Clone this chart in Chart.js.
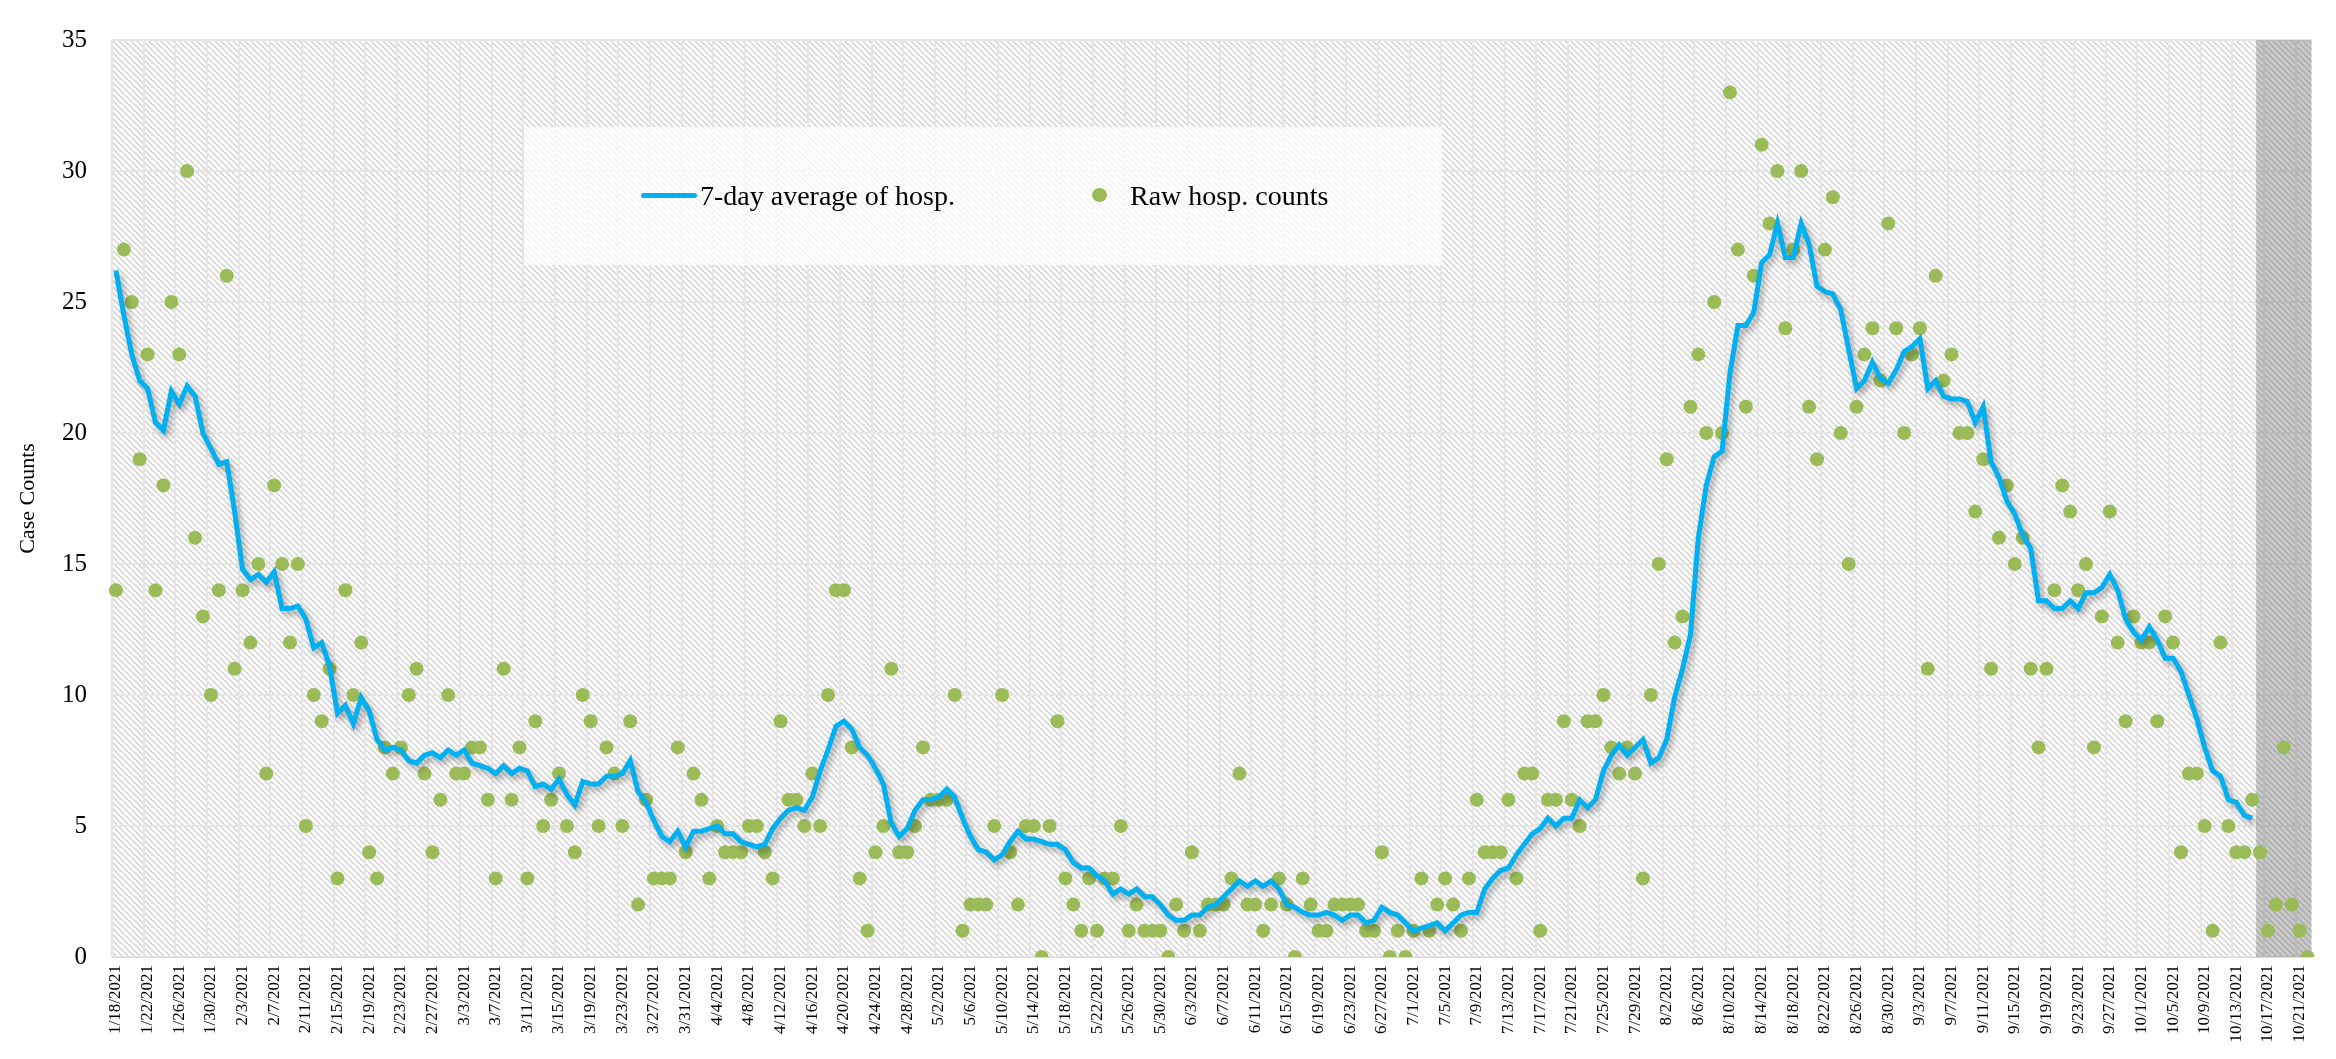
<!DOCTYPE html>
<html>
<head>
<meta charset="utf-8">
<title>Hospitalizations</title>
<script src="https://cdn.jsdelivr.net/npm/chart.js@4.4.1/dist/chart.umd.min.js"></script>
<style>
    html, body { margin: 0; padding: 0; background: #fff; }
    #wrap { position: relative; width: 2336px; height: 1059px; }
    #legend {
        position: absolute; left: 524px; top: 127px; width: 918px; height: 138px;
        background: rgba(255, 255, 255, 0.72);
        font-family: "Liberation Serif", serif; font-size: 28px; color: #000;
    }
    .item { position: absolute; top: 51px; line-height: 36px; white-space: nowrap; }
    .swatch-line { position: absolute; left: 117px; top: 66px; width: 56px; height: 5px; background: #00B0F0; border-radius: 3px; }
    .swatch-dot { position: absolute; left: 568px; top: 61px; width: 15px; height: 14px; border-radius: 50%; background: #9BBB59; }
</style>
</head>
<body>
<div id="wrap">
    <canvas id="hospChart" width="2336" height="1059"></canvas>
    <div id="legend">
        <div class="swatch-line"></div>
        <div class="item" style="left:176px;">7-day average of hosp.</div>
        <div class="swatch-dot"></div>
        <div class="item" style="left:606px;">Raw hosp. counts</div>
    </div>
</div>
<script>
// --- Data ---
// date spans: [month, firstDay, lastDay], year 2021
const monthSpans = [[1, 18, 31], [2, 1, 28], [3, 1, 31], [4, 1, 30], [5, 1, 31],
    [6, 1, 30], [7, 1, 31], [8, 1, 31], [9, 1, 30], [10, 1, 22]];

// raw daily hospitalization counts, 1/18/2021 .. 10/22/2021
const rawCounts = [
    14, 27, 25, 19, 23, 14, 18, 25, 23, 30, 16, 13, 10, 14,           // Jan 18-31
    26, 11, 14, 12, 15, 7, 18, 15, 12, 15, 5, 10, 9, 11, 3, 14, 10, 12, 4, 3, 8, 7, 8, 10, 11, 7, 4, 6, // Feb
    10, 7, 7, 8, 8, 6, 3, 11, 6, 8, 3, 9, 5, 6, 7, 5, 4, 10, 9, 5, 8, 7, 5, 9, 2, 6, 3, 3, 3, 8, 4,   // Mar
    7, 6, 3, 5, 4, 4, 4, 5, 5, 4, 3, 9, 6, 6, 5, 7, 5, 10, 14, 14, 8, 3, 1, 4, 5, 11, 4, 4, 5, 8,     // Apr
    6, 6, 6, 10, 1, 2, 2, 2, 5, 10, 4, 2, 5, 5, 0, 5, 9, 3, 2, 1, 3, 1, 3, 3, 5, 1, 2, 1, 1, 1, 0,    // May
    2, 1, 4, 1, 2, 2, 2, 3, 7, 2, 2, 1, 2, 3, 2, 0, 3, 2, 1, 1, 2, 2, 2, 2, 1, 1, 4, 0, 1, 0,         // Jun
    1, 3, 1, 2, 3, 2, 1, 3, 6, 4, 4, 4, 6, 3, 7, 7, 1, 6, 6, 9, 6, 5, 9, 9, 10, 8, 7, 8, 7, 3, 10,    // Jul
    15, 19, 12, 13, 21, 23, 20, 25, 20, 33, 27, 21, 26, 31, 28, 30, 24, 27, 30, 21, 19, 27, 29, 20, 15, 21, 23, 24, 22, 28, 24, // Aug
    20, 23, 24, 11, 26, 22, 23, 20, 20, 17, 19, 11, 16, 18, 15, 16, 11, 8, 11, 14, 18, 17, 14, 15, 8, 13, 17, 12, 9, 13, // Sep
    12, 12, 9, 13, 12, 4, 7, 7, 5, 1, 12, 5, 4, 4, 6, 4, 1, 2, 8, 2, 1, 0                            // Oct 1-22
];

// 7-day average (ends 10/15/2021)
const avgCounts = [
    26.2, 24.5, 23.0, 22.0, 21.7, 20.4, 20.1, 21.6, 21.1, 21.8, 21.4, 20.0, 19.4, 18.8,
    18.9, 17.0, 14.8, 14.4, 14.6, 14.3, 14.7, 13.3, 13.3, 13.4, 12.9, 11.8, 12.0, 11.1, 9.3, 9.6, 8.9, 9.9, 9.4, 8.3, 7.9, 8.0, 7.9, 7.5, 7.4, 7.7, 7.8, 7.6,
    7.9, 7.7, 7.9, 7.4, 7.3, 7.2, 7.0, 7.3, 7.0, 7.2, 7.1, 6.5, 6.6, 6.4, 6.8, 6.2, 5.8, 6.7, 6.6, 6.6, 6.9, 6.9, 7.0, 7.5, 6.3, 5.9, 5.2, 4.6, 4.4, 4.8, 4.2,
    4.8, 4.8, 4.9, 5.0, 4.7, 4.7, 4.4, 4.3, 4.2, 4.3, 4.9, 5.3, 5.6, 5.7, 5.6, 6.1, 7.1, 7.9, 8.8, 9.0, 8.7, 8.0, 7.7, 7.2, 6.6, 5.1, 4.6, 4.9, 5.6, 6.0,
    6.0, 6.1, 6.4, 6.1, 5.3, 4.6, 4.1, 4.0, 3.7, 3.9, 4.4, 4.8, 4.5, 4.5, 4.4, 4.3, 4.3, 4.1, 3.6, 3.4, 3.4, 3.1, 2.9, 2.4, 2.6, 2.4, 2.6, 2.3, 2.3, 2.0, 1.6,
    1.4, 1.4, 1.6, 1.6, 1.9, 2.0, 2.3, 2.6, 2.9, 2.7, 2.9, 2.7, 2.9, 2.6, 2.0, 1.9, 1.7, 1.6, 1.6, 1.7, 1.6, 1.4, 1.6, 1.6, 1.3, 1.4, 1.9, 1.7, 1.6, 1.3,
    1.0, 1.1, 1.2, 1.3, 1.0, 1.3, 1.6, 1.7, 1.7, 2.6, 3.0, 3.3, 3.4, 3.9, 4.3, 4.7, 4.9, 5.3, 5.0, 5.3, 5.3, 6.0, 5.7, 6.0, 7.1, 7.7, 8.1, 7.7, 8.0, 8.3, 7.4,
    7.6, 8.3, 9.9, 11.0, 12.3, 16.0, 18.0, 19.1, 19.3, 22.3, 24.1, 24.1, 24.6, 26.5, 26.8, 28.0, 26.7, 26.7, 28.0, 27.2, 25.6, 25.4, 25.3, 24.7, 23.2, 21.7, 22.0, 22.7, 22.1, 21.9, 22.4,
    23.1, 23.3, 23.6, 21.7, 22.0, 21.4, 21.3, 21.3, 21.2, 20.4, 21.0, 18.9, 18.3, 17.4, 16.9, 16.1, 15.6, 13.6, 13.6, 13.3, 13.3, 13.6, 13.3, 13.9, 13.9, 14.1, 14.6, 14.0, 12.9, 12.4,
    12.1, 12.6, 12.1, 11.4, 11.4, 10.9, 10.0, 9.1, 8.0, 7.1, 6.9, 6.0, 5.9, 5.4, 5.3
];

const yTicks = [0, 5, 10, 15, 20, 25, 30, 35];
const labelEvery = 4;        // one x label (and grid line) every 4 days
const shadedDays = 7;        // last 7 days are greyed out

// --- Build the category labels ---
const dateLabels = [];
monthSpans.forEach(([m, d0, d1]) => {
    for (let d = d0; d <= d1; d++) dateLabels.push(`${m}/${d}/2021`);
});

const avgSeries = dateLabels.map((_, i) => i < avgCounts.length ? avgCounts[i] : null);

// --- Plugins ---
const ctxMain = document.getElementById('hospChart').getContext('2d');

function makeHatch(bg, fg) {
    const c = document.createElement('canvas');
    c.width = 6; c.height = 6;
    const g = c.getContext('2d');
    g.fillStyle = bg;
    g.fillRect(0, 0, 6, 6);
    g.strokeStyle = fg;
    g.lineWidth = 1.3;
    g.beginPath();
    g.moveTo(-1, -1); g.lineTo(7, 7);
    g.moveTo(5, -1); g.lineTo(7, 1);
    g.moveTo(-1, 5); g.lineTo(1, 7);
    g.stroke();
    return ctxMain.createPattern(c, 'repeat');
}
const hatch = makeHatch('#ffffff', '#cfcfcf');

const backdrop = {
    id: 'backdrop',
    beforeDraw(chart) {
        const { ctx, chartArea: a } = chart;
        ctx.save();
        ctx.fillStyle = hatch;
        ctx.fillRect(a.left, a.top, a.width, a.height);
        ctx.restore();
    },
    // grey band over the last days, on top of the grid lines
    beforeDatasetsDraw(chart) {
        const { ctx, chartArea: a, scales: { x } } = chart;
        const step = x.getPixelForValue(1) - x.getPixelForValue(0);
        const x0 = x.getPixelForValue(dateLabels.length - shadedDays) - step / 2;
        ctx.save();
        ctx.fillStyle = 'rgba(90, 90, 90, 0.33)';
        ctx.fillRect(x0, a.top, a.right - x0, a.height);
        ctx.restore();
    }
};

// drop shadow under the average line
const lineShadow = {
    id: 'lineShadow',
    beforeDatasetDraw(chart, args) {
        if (args.index !== 0) return;
        const ctx = chart.ctx;
        ctx.save();
        ctx.shadowColor = 'rgba(0, 0, 0, 0.35)';
        ctx.shadowBlur = 6;
        ctx.shadowOffsetX = 3;
        ctx.shadowOffsetY = 4;
    },
    afterDatasetDraw(chart, args) {
        if (args.index !== 0) return;
        chart.ctx.restore();
    }
};

const serif = '"Liberation Serif", "Times New Roman", serif';

new Chart(ctxMain, {
    type: 'line',
    data: {
        labels: dateLabels,
        datasets: [{
            label: '7-day average of hosp.',
            data: avgSeries,
            borderColor: '#00B0F0',
            borderWidth: 5,
            pointRadius: 0,
            tension: 0,
            spanGaps: false
        }, {
            label: 'Raw hosp. counts',
            data: rawCounts,
            showLine: false,
            pointRadius: 7,
            pointHoverRadius: 7,
            pointBackgroundColor: '#9BBB59',
            pointBorderWidth: 0
        }]
    },
    options: {
        responsive: false,
        animation: false,
        devicePixelRatio: 1,
        layout: { padding: { top: 15, right: 19, left: 0, bottom: 0 } },
        plugins: {
            legend: { display: false },
            tooltip: { enabled: false }
        },
        scales: {
            x: {
                type: 'category',
                offset: true,
                afterFit(scale) { scale.height = 102; },
                grid: {
                    offset: true,
                    drawTicks: false,
                    lineWidth: 2,
                    color: c => (c.index % labelEvery === 0 ? '#e6e6e6' : 'rgba(0,0,0,0)')
                },
                border: { color: '#d9d9d9', width: 1 },
                ticks: {
                    autoSkip: false,
                    maxRotation: 90,
                    minRotation: 90,
                    padding: 8,
                    color: '#000',
                    font: { family: serif, size: 17 },
                    callback: (v, i) => (i % labelEvery === 0 ? dateLabels[i] : '')
                }
            },
            y: {
                min: yTicks[0],
                max: yTicks[yTicks.length - 1],
                afterFit(scale) { scale.width = 112; },
                afterBuildTicks(scale) { scale.ticks = yTicks.map(v => ({ value: v })); },
                grid: { drawTicks: false, lineWidth: 2, color: '#e6e6e6' },
                border: { display: false },
                ticks: {
                    padding: 25,
                    color: '#000',
                    font: { family: serif, size: 25 }
                },
                title: {
                    display: true,
                    text: 'Case Counts',
                    color: '#000',
                    font: { family: serif, size: 22 },
                    padding: { top: 15, bottom: 4 }
                }
            }
        }
    },
    plugins: [backdrop, lineShadow]
});
</script>
</body>
</html>
